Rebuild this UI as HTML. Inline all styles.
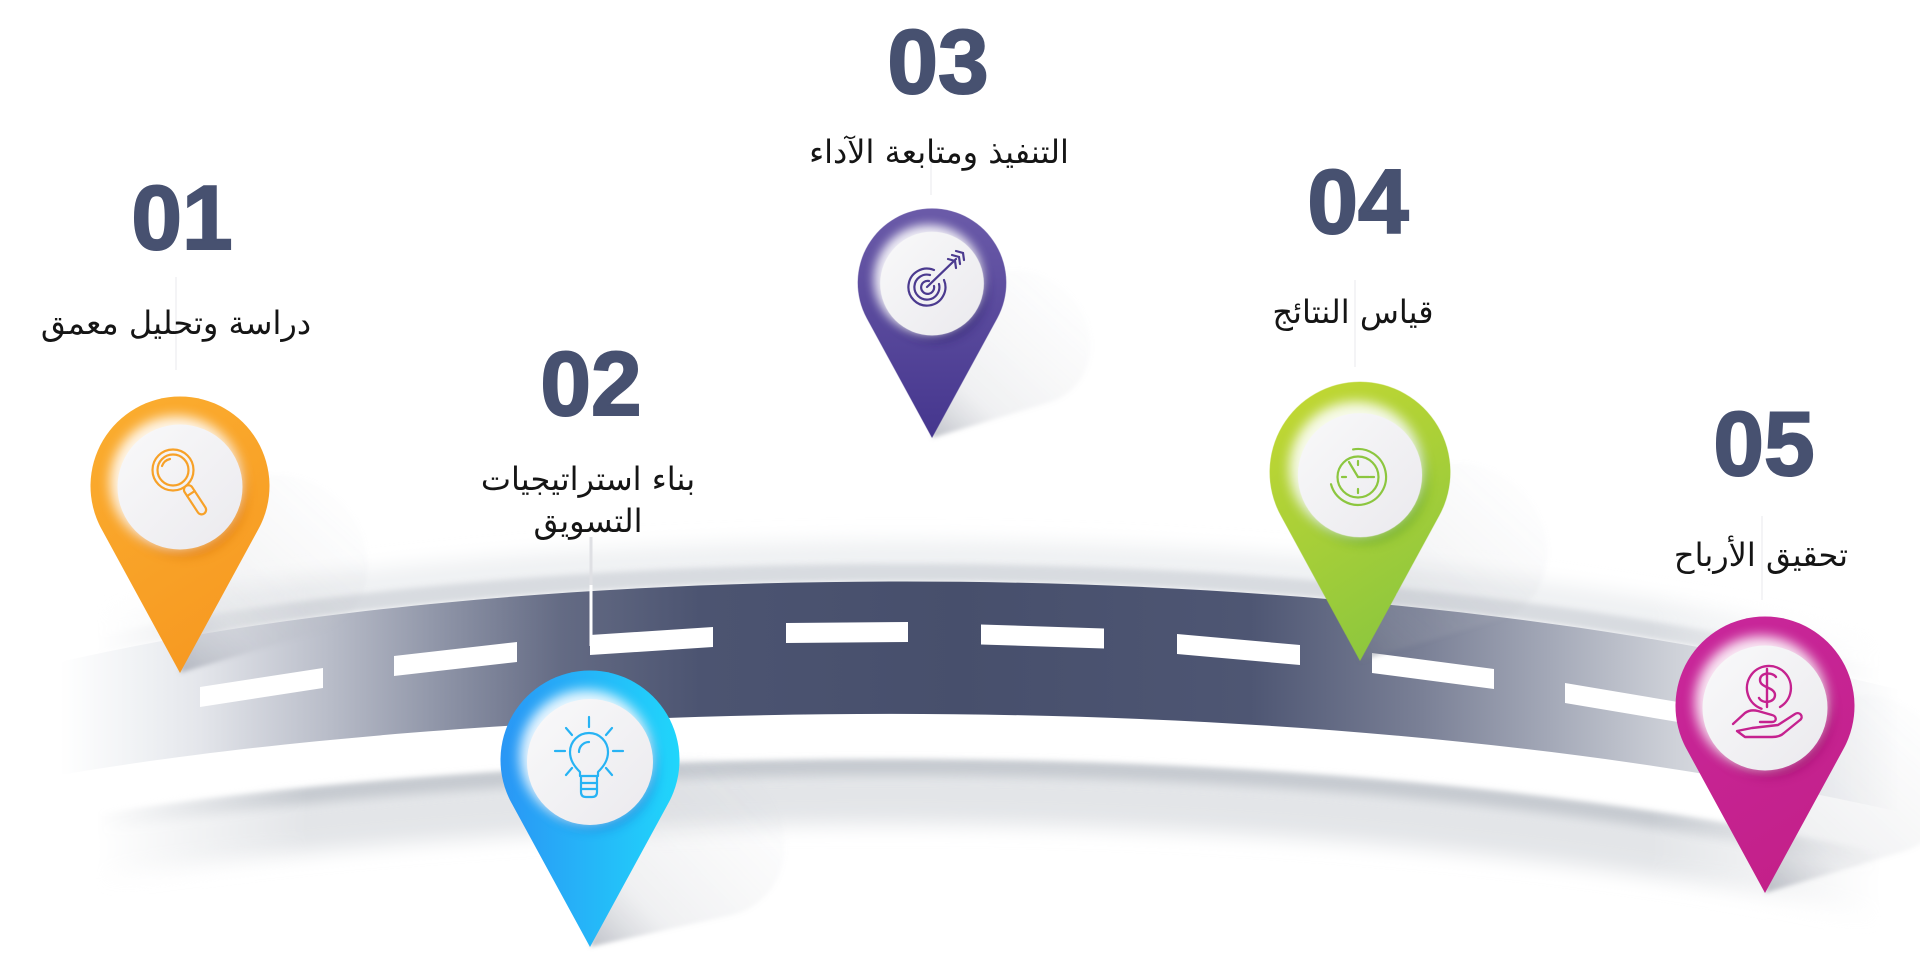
<!DOCTYPE html>
<html>
<head>
<meta charset="utf-8">
<style>
html,body{margin:0;padding:0;background:#fff;}
body{width:1920px;height:966px;overflow:hidden;}
svg{display:block;}
.num{font-family:"Liberation Sans",Arial,sans-serif;font-weight:bold;font-size:91px;fill:#475170;stroke:#475170;stroke-width:2;}
.lbl{font-family:"DejaVu Sans","Liberation Sans",sans-serif;font-size:32px;fill:#151515;}
</style>
</head>
<body>
<svg xmlns="http://www.w3.org/2000/svg" width="1920" height="966" viewBox="0 0 1920 966">
<defs>
  <linearGradient id="road" gradientUnits="userSpaceOnUse" x1="60" y1="0" x2="1900" y2="0">
    <stop offset="0" stop-color="#ffffff"/>
    <stop offset="0.049" stop-color="#eef0f3"/>
    <stop offset="0.076" stop-color="#e4e6eb"/>
    <stop offset="0.147" stop-color="#b8bcc8"/>
    <stop offset="0.209" stop-color="#8d93a6"/>
    <stop offset="0.272" stop-color="#646b84"/>
    <stop offset="0.348" stop-color="#4c5471"/>
    <stop offset="0.489" stop-color="#474f6c"/>
    <stop offset="0.647" stop-color="#4e5673"/>
    <stop offset="0.740" stop-color="#7a8096"/>
    <stop offset="0.809" stop-color="#a3a8b7"/>
    <stop offset="0.879" stop-color="#cfd2d9"/>
    <stop offset="0.935" stop-color="#e8eaee"/>
    <stop offset="1" stop-color="#ffffff"/>
  </linearGradient>
  <linearGradient id="fadeH" gradientUnits="userSpaceOnUse" x1="0" y1="0" x2="1920" y2="0">
    <stop offset="0.05" stop-color="#000"/>
    <stop offset="0.16" stop-color="#fff"/>
    <stop offset="0.86" stop-color="#fff"/>
    <stop offset="0.98" stop-color="#000"/>
  </linearGradient>
  <mask id="mH" maskUnits="userSpaceOnUse" x="0" y="0" width="1920" height="966">
    <rect x="0" y="0" width="1920" height="966" fill="url(#fadeH)"/>
  </mask>
  <filter id="fb3" filterUnits="userSpaceOnUse" x="0" y="0" width="1920" height="966"><feGaussianBlur stdDeviation="3"/></filter>
  <filter id="fb5" filterUnits="userSpaceOnUse" x="0" y="0" width="1920" height="966"><feGaussianBlur stdDeviation="5"/></filter>
  <filter id="fb10" filterUnits="userSpaceOnUse" x="0" y="0" width="1920" height="966"><feGaussianBlur stdDeviation="10"/></filter>
  <filter id="b2" x="-30%" y="-30%" width="160%" height="160%"><feGaussianBlur stdDeviation="2"/></filter>
  <filter id="b5" x="-30%" y="-30%" width="160%" height="160%"><feGaussianBlur stdDeviation="5"/></filter>
  <filter id="b6" x="-30%" y="-30%" width="160%" height="160%"><feGaussianBlur stdDeviation="6"/></filter>

  <path id="pin" d="M0,0 L78.6,-144.2 A89.5,89.5 0 1 0 -78.6,-144.2 Z"/>
  <clipPath id="pc"><path d="M0,0 L78.6,-144.2 A89.5,89.5 0 1 0 -78.6,-144.2 Z"/></clipPath>

  <linearGradient id="shg" gradientUnits="userSpaceOnUse" x1="0" y1="0" x2="0" y2="-276">
    <stop offset="0" stop-color="#6f7585" stop-opacity="0.45"/>
    <stop offset="0.3" stop-color="#a9adb7" stop-opacity="0.18"/>
    <stop offset="1" stop-color="#d5d7dc" stop-opacity="0.05"/>
  </linearGradient>

  <linearGradient id="gO" gradientUnits="userSpaceOnUse" x1="-90" y1="-276" x2="90" y2="0">
    <stop offset="0" stop-color="#fbae30"/><stop offset="1" stop-color="#f6961f"/>
  </linearGradient>
  <linearGradient id="gB" gradientUnits="userSpaceOnUse" x1="-90" y1="-186" x2="90" y2="-186">
    <stop offset="0" stop-color="#2a96f5"/><stop offset="1" stop-color="#20d6fb"/>
  </linearGradient>
  <linearGradient id="gP" gradientUnits="userSpaceOnUse" x1="0" y1="-276" x2="0" y2="0">
    <stop offset="0" stop-color="#6b5ba9"/><stop offset="1" stop-color="#45368e"/>
  </linearGradient>
  <linearGradient id="gG" gradientUnits="userSpaceOnUse" x1="-90" y1="-276" x2="90" y2="0">
    <stop offset="0" stop-color="#c6d932"/><stop offset="1" stop-color="#84c440"/>
  </linearGradient>
  <linearGradient id="gM" gradientUnits="userSpaceOnUse" x1="-90" y1="-276" x2="90" y2="0">
    <stop offset="0" stop-color="#c9279c"/><stop offset="1" stop-color="#c21f86"/>
  </linearGradient>
  <linearGradient id="gIn" gradientUnits="userSpaceOnUse" x1="-60" y1="-246" x2="60" y2="-126">
    <stop offset="0" stop-color="#f9f9fa"/><stop offset="1" stop-color="#ebeaee"/>
  </linearGradient>
</defs>

<rect x="0" y="0" width="1920" height="966" fill="#fff"/>

<!-- faint guide lines -->
<g stroke="#f0f0f2" stroke-width="1.5">
  <line x1="176" y1="277" x2="176" y2="370"/>
  <line x1="931" y1="163" x2="931" y2="195"/>
  <line x1="1355" y1="280" x2="1355" y2="367"/>
  <line x1="1762" y1="516" x2="1762" y2="600"/>
</g>

<!-- road shading -->
<g mask="url(#mH)" fill="none">
  <path d="M60,855 C500,780 1300,755 1900,892" stroke="#e3e5e8" stroke-width="60" filter="url(#fb10)"/>
  <path d="M60,827 C500,752 1300,727 1900,864" stroke="#c6cad0" stroke-width="20" filter="url(#fb5)"/>
  <path d="M60,797 C500,722 1300,697 1900,834" stroke="#ffffff" stroke-width="44" filter="url(#fb3)"/>
  <path d="M60,637 C500,535 1300,515 1900,665" stroke="#eef0f2" stroke-width="30" filter="url(#fb10)"/>
  <path d="M60,653 C500,551 1300,531 1900,681" stroke="#d8dbe0" stroke-width="18" filter="url(#fb3)"/>
</g>

<!-- road surface -->
<path d="M60,662 C500,560 1300,540 1900,690 L1900,812 C1300,675 500,700 60,775 Z" fill="url(#road)"/>

<!-- dashes -->
<g fill="#ffffff">
  <polygon points="200,687 323,668 323,688 200,707"/>
  <polygon points="394,656 517,642 517,662 394,676"/>
  <polygon points="590,635 713,627 713,647 590,655"/>
  <polygon points="786,623 908,622 908,642 786,643"/>
  <polygon points="981,624.5 1104,628.5 1104,648.5 981,644.5"/>
  <polygon points="1177,634 1300,645 1300,665 1177,654"/>
  <polygon points="1372,653 1494,669 1494,689 1372,673"/>
  <polygon points="1565,683 1690,704 1690,724 1565,703"/>
</g>

<!-- connector of label 02 -->
<line x1="591" y1="537" x2="591" y2="590" stroke="#dfe0e4" stroke-width="3"/>
<line x1="591" y1="585" x2="591" y2="646" stroke="#ffffff" stroke-width="3"/>

<!-- pin shadows -->
<g filter="url(#b2)">
  <use href="#pin" fill="url(#shg)" transform="translate(180,673) rotate(42) scale(0.95,0.85)"/>
  <use href="#pin" fill="url(#shg)" transform="translate(590,947) rotate(46) scale(0.95,0.85)"/>
  <use href="#pin" fill="url(#shg)" transform="translate(932,438) rotate(42) scale(0.8,0.72)"/>
  <use href="#pin" fill="url(#shg)" transform="translate(1360,661) rotate(42) scale(0.95,0.85)"/>
  <use href="#pin" fill="url(#shg)" transform="translate(1765,893) rotate(42) scale(0.95,0.85)"/>
</g>

<!-- PIN 1 orange -->
<g transform="translate(180,673)">
  <use href="#pin" fill="url(#gO)"/>
  <g clip-path="url(#pc)">
    <circle cx="4" cy="-179" r="63" fill="#db760e" opacity="0.6" filter="url(#b5)"/>
    <circle cx="-4" cy="-191" r="66" fill="#ffffff" opacity="0.9" filter="url(#b6)"/>
  </g>
  <circle cx="0" cy="-186" r="62.5" fill="url(#gIn)"/>
</g>
<!-- PIN 2 blue -->
<g transform="translate(590,947)">
  <use href="#pin" fill="url(#gB)"/>
  <g clip-path="url(#pc)">
    <circle cx="4" cy="-179" r="63" fill="#1b7fd9" opacity="0.55" filter="url(#b5)"/>
    <circle cx="-4" cy="-191" r="66" fill="#ffffff" opacity="0.9" filter="url(#b6)"/>
  </g>
  <circle cx="0" cy="-185" r="63" fill="url(#gIn)"/>
</g>
<!-- PIN 3 purple -->
<g transform="translate(932,438) scale(0.83)">
  <use href="#pin" fill="url(#gP)"/>
  <g clip-path="url(#pc)">
    <circle cx="4" cy="-179" r="63" fill="#2e2070" opacity="0.6" filter="url(#b5)"/>
    <circle cx="-4" cy="-191" r="66" fill="#ffffff" opacity="0.9" filter="url(#b6)"/>
  </g>
  <circle cx="0" cy="-186" r="62.5" fill="url(#gIn)"/>
</g>
<!-- PIN 4 green -->
<g transform="translate(1360,661) scale(1.01)">
  <use href="#pin" fill="url(#gG)"/>
  <g clip-path="url(#pc)">
    <circle cx="4" cy="-179" r="63" fill="#64a628" opacity="0.6" filter="url(#b5)"/>
    <circle cx="-4" cy="-191" r="66" fill="#ffffff" opacity="0.9" filter="url(#b6)"/>
  </g>
  <circle cx="0" cy="-184" r="61.5" fill="url(#gIn)"/>
</g>
<!-- PIN 5 magenta -->
<g transform="translate(1765,893)">
  <use href="#pin" fill="url(#gM)"/>
  <g clip-path="url(#pc)">
    <circle cx="4" cy="-179" r="63" fill="#980f68" opacity="0.6" filter="url(#b5)"/>
    <circle cx="-4" cy="-191" r="66" fill="#ffffff" opacity="0.9" filter="url(#b6)"/>
  </g>
  <circle cx="0" cy="-185" r="62.5" fill="url(#gIn)"/>
</g>

<!-- ICONS -->
<!-- magnifier -->
<g fill="none" stroke="#f7a128" stroke-width="2.2" stroke-linecap="round">
  <circle cx="173" cy="470" r="20.5"/>
  <circle cx="173" cy="470" r="15.5"/>
  <path d="M162,466 A11,11 0 0 1 170,459"/>
  <rect x="0" y="-4.5" width="33" height="9" rx="4.5" transform="translate(186,486) rotate(56.8)"/>
  <line x1="0" y1="-4.5" x2="0" y2="4.5" transform="translate(186,486) rotate(56.8) translate(9,0)"/>
</g>
<!-- bulb -->
<g fill="none" stroke="#27b3f4" stroke-width="2.2" stroke-linecap="round" stroke-linejoin="round">
  <path d="M580,772 C574,766 570,760 570,752 A19,19 0 1 1 608,752 C608,760 604,766 598,772 L598,776 L580,776 Z"/>
  <path d="M579,752 A10,10 0 0 1 589,742"/>
  <path d="M581,777 L581,792 Q581,797 586,797 L592,797 Q597,797 597,792 L597,777"/>
  <line x1="581" y1="783" x2="597" y2="783"/>
  <line x1="581" y1="789" x2="597" y2="789"/>
  <line x1="589" y1="717" x2="589" y2="727"/>
  <line x1="555" y1="751" x2="565" y2="751"/>
  <line x1="613" y1="751" x2="623" y2="751"/>
  <line x1="566" y1="728" x2="572" y2="735"/>
  <line x1="612" y1="728" x2="606" y2="735"/>
  <line x1="566" y1="775" x2="572" y2="768"/>
  <line x1="612" y1="775" x2="606" y2="768"/>
</g>
<!-- target -->
<g fill="none" stroke="#4b3a8f" stroke-width="2.2" stroke-linecap="round">
  <path d="M944,280 A18.5,18.5 0 1 1 934,270"/>
  <path d="M939,284 A12.5,12.5 0 1 1 930,275"/>
  <path d="M934,286 A6.5,6.5 0 1 1 929,281"/>
  <line x1="927" y1="287" x2="956" y2="259"/>
  <path d="M948,259 L955,261 L956,268"/>
  <path d="M952,255 L959,257 L960,264"/>
  <path d="M956,251 L963,253 L964,260"/>
</g>
<!-- clock -->
<g fill="none" stroke="#8cc63f" stroke-width="2.2" stroke-linecap="round">
  <circle cx="1358" cy="477" r="20.5"/>
  <path d="M1353.1,449.4 A28,28 0 1 1 1331,484.2"/>
  <line x1="1358" y1="461" x2="1358" y2="465"/>
  <line x1="1358" y1="489" x2="1358" y2="493"/>
  <line x1="1342" y1="477" x2="1346" y2="477"/>
  <line x1="1370" y1="477" x2="1374" y2="477"/>
  <line x1="1358" y1="477" x2="1349" y2="462"/>
  <line x1="1358" y1="477" x2="1369" y2="477"/>
</g>
<!-- money hand -->
<g fill="none" stroke="#c5228f" stroke-width="2.4" stroke-linecap="round" stroke-linejoin="round">
  <path d="M1761.5,708.7 A22,22 0 1 1 1780,707"/>
  <path d="M1776,677 C1773,672 1760,672 1760,680 C1760,688 1775,687 1775,695 C1775,703 1762,704 1759,698"/>
  <line x1="1767" y1="669" x2="1767" y2="707"/>
  <path d="M1733,724 L1745,713 C1749,710 1754,710 1758,711 L1772,715 C1777,716 1777,722 1772,722 L1760,722"/>
  <path d="M1752,728 L1778,725 L1795,714 C1800,711 1804,717 1800,720 L1784,733 C1781,736 1777,737 1772,737 L1745,737 L1737,731 Z"/>
</g>

<!-- NUMBERS -->
<text class="num" x="182" y="249" text-anchor="middle">01</text>
<text class="num" x="591" y="415" text-anchor="middle">02</text>
<text class="num" x="938" y="93" text-anchor="middle">03</text>
<text class="num" x="1358" y="233" text-anchor="middle">04</text>
<text class="num" x="1764" y="475" text-anchor="middle">05</text>

<!-- LABELS -->
<text class="lbl" x="176" y="334" text-anchor="middle" direction="rtl">دراسة وتحليل معمق</text>
<text class="lbl" x="588" y="490" text-anchor="middle" direction="rtl">بناء استراتيجيات</text>
<text class="lbl" x="588" y="532" text-anchor="middle" direction="rtl">التسويق</text>
<text class="lbl" x="939" y="163" text-anchor="middle" direction="rtl">التنفيذ ومتابعة الآداء</text>
<text class="lbl" x="1353" y="323" text-anchor="middle" direction="rtl">قياس النتائج</text>
<text class="lbl" x="1761" y="566" text-anchor="middle" direction="rtl">تحقيق الأرباح</text>
</svg>
</body>
</html>
